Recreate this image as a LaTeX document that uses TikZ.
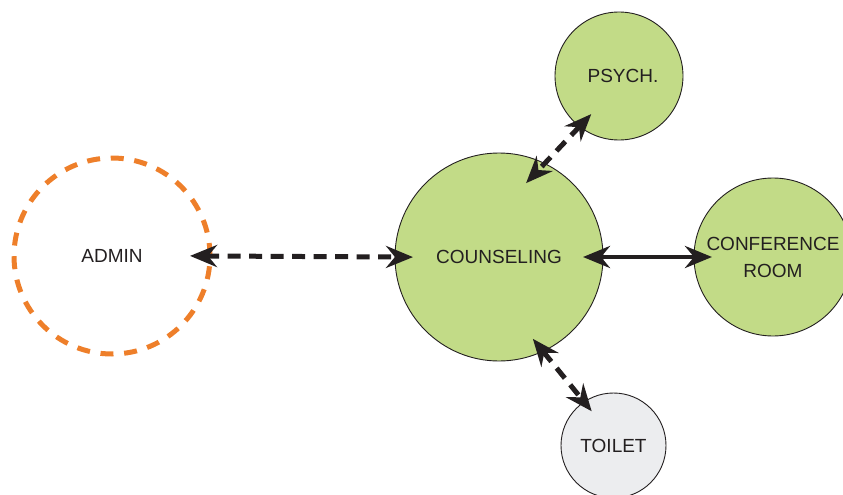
\documentclass[tikz,border=0pt]{standalone}
\usepackage{fontspec}
\setmainfont{Liberation Sans}
\usetikzlibrary{arrows.meta}
\definecolor{roomgreen}{HTML}{C2DB87}
\definecolor{roomgray}{HTML}{ECEDEF}
\definecolor{adminorange}{HTML}{EE7F2A}
\definecolor{inkdark}{HTML}{231F20}
\tikzset{
  room/.style={circle, draw=inkdark, line width=0.9pt, inner sep=0pt, outer sep=0pt,
    text=inkdark, align=center, font=\fontsize{19}{27}\selectfont},
  greenroom/.style={room, fill=roomgreen},
  grayroom/.style={room, fill=roomgray},
  adminroom/.style={room, draw=adminorange, line width=5pt, dash pattern=on 13pt off 10.7pt},
  link/.style={draw=inkdark, line width=4.5pt, {Stealth[length=27pt, width=22pt, inset=9pt]}-{Stealth[length=27pt, width=22pt, inset=9pt]}},
  dashlink/.style={link, line width=5pt, dash pattern=on 13pt off 8.5pt}
}
\begin{document}
\begin{tikzpicture}[x=1pt,y=-1pt]
\useasboundingbox (0,0) rectangle (843,495);
\clip (0,0) rectangle (843,495);
\node[adminroom, minimum size=196pt] (admin) at (112,256) {ADMIN};
\node[greenroom, minimum size=208pt] (couns) at (499,257) {COUNSELING};
\node[greenroom, minimum size=128pt] (psych) at (619,76) {\hspace*{8pt}PSYCH.};
\node[greenroom, minimum size=158pt] (conf) at (773,257) {CONFERENCE\\ROOM};
\node[grayroom, minimum size=105pt] (toilet) at (613.5,445.5) {TOILET};
\draw[dashlink, shorten <=-20pt, shorten >=-18pt] (admin.east) -- (couns.west);
\draw[link, shorten <=-20pt, shorten >=-18pt] (couns.east) -- (conf.west);
\draw[dashlink, shorten <=-17pt, shorten >=-27pt] (psych.232) -- (couns.64);
\draw[dashlink, shorten <=-16pt, shorten >=-12pt] (couns.295) -- (toilet.124);
\end{tikzpicture}
\end{document}
